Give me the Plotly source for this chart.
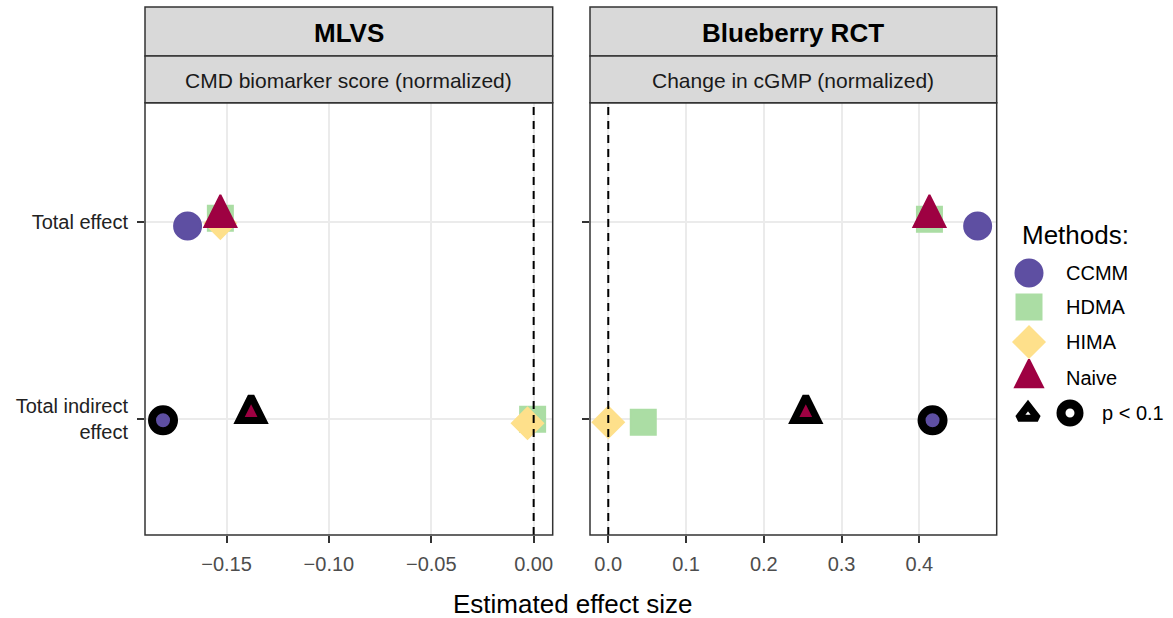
import plotly.graph_objects as go

W, H = 1173, 618

# ---------------- data ----------------
methods = ["CCMM", "HDMA", "HIMA", "Naive"]
colors = ["#5E4FA2", "#ABDDA4", "#FEE08B", "#9E0142"]
symbols = ["circle", "square", "diamond", "triangle"]

effect_labels = ["Total effect", "Total indirect<br>effect"]
effect_pos = [2, 1]          # category positions (top, bottom)

studies = ["MLVS", "Blueberry RCT"]
outcomes = ["CMD biomarker score (normalized)", "Change in cGMP (normalized)"]

# estimated effect sizes: [total effect, total indirect effect]
mlvs_est = {"CCMM": [-0.169, -0.181], "HDMA": [-0.153, -0.0005],
            "HIMA": [-0.153, -0.003], "Naive": [-0.153, -0.138]}
blue_est = {"CCMM": [0.475, 0.417], "HDMA": [0.413, 0.045],
            "HIMA": [None, 0.0], "Naive": [0.413, 0.254]}

# p < 0.1 flags
mlvs_sig = {"CCMM": [False, True], "HDMA": [False, False],
            "HIMA": [False, False], "Naive": [False, True]}
blue_sig = {"CCMM": [False, True], "HDMA": [False, False],
            "HIMA": [False, False], "Naive": [False, True]}

# small vertical jitter (category units)
mlvs_jit = {"CCMM": [-0.02, -0.005], "HDMA": [0.02, 0.0],
            "HIMA": [-0.005, -0.02], "Naive": [0.03, 0.035]}
blue_jit = {"CCMM": [-0.02, -0.005], "HDMA": [0.015, -0.015],
            "HIMA": [0.0, -0.015], "Naive": [0.03, 0.035]}

# ---------------- styling ----------------
FONT = "Liberation Sans, Arial, sans-serif"
base_size = {"circle": 27, "square": 25, "diamond": 24, "triangle": 32}
base_lw = {"circle": 2, "square": 2, "diamond": 2, "triangle": 2}
sig_size = {"circle": 22, "square": 20, "diamond": 20, "triangle": 24}
sig_lw = {"circle": 8, "square": 7, "diamond": 7, "triangle": 7}


def marker_style(sym, sizes):
    """Equilateral-looking up triangle: arrow-down rotated 180deg, centred on its centroid."""
    if sym == "triangle":
        return dict(symbol="arrow-down", angle=180,
                    standoff=[2.0 * s / 3.0 for s in sizes])
    return dict(symbol=sym)


def px_x(x):
    return x / W


def px_y(y):
    return 1 - y / H


# panel extents in pixels
L1, R1 = 145, 552.7
L2, R2 = 590, 996.7
PT, PB = 102.7, 535
S_TOP, S_MID = 7, 56

fig = go.Figure()

panels = [("x", "y", mlvs_est, mlvs_sig, mlvs_jit),
          ("x2", "y2", blue_est, blue_sig, blue_jit)]

for xa, ya, est, sig, jit in panels:
    for m, col, sym in zip(methods, colors, symbols):
        xs, ys, sizes, lws, lcs = [], [], [], [], []
        for i, pos in enumerate(effect_pos):
            v = est[m][i]
            if v is None:
                continue
            xs.append(v)
            ys.append(pos + jit[m][i])
            if sig[m][i]:
                sizes.append(sig_size[sym])
                lws.append(sig_lw[sym])
                lcs.append("black")
            else:
                sizes.append(base_size[sym])
                lws.append(base_lw[sym])
                lcs.append(col)
        fig.add_trace(go.Scatter(
            x=xs, y=ys, mode="markers", xaxis=xa, yaxis=ya, showlegend=False,
            name=m,
            marker=dict(color=col, size=sizes, opacity=1,
                        line=dict(width=lws, color=lcs),
                        **marker_style(sym, sizes)),
        ))

# ---------------- custom legend (own pixel axis) ----------------
leg_rows = [273, 307, 342, 378]
leg_size = {"circle": 27, "square": 25, "diamond": 24, "triangle": 28}
for m, col, sym, yy in zip(methods, colors, symbols, leg_rows):
    fig.add_trace(go.Scatter(
        x=[1029], y=[yy], mode="markers", xaxis="x3", yaxis="y3", showlegend=False,
        marker=dict(color=col, size=leg_size[sym], opacity=1,
                    line=dict(width=base_lw[sym], color=col),
                    **marker_style(sym, [leg_size[sym]])),
        hoverinfo="skip"))
    fig.add_annotation(x=px_x(1064), y=px_y(yy), xref="paper", yref="paper",
                       text=m, showarrow=False, xanchor="left", yanchor="middle",
                       font=dict(family=FONT, size=20, color="black"))
# p < 0.1 key
fig.add_trace(go.Scatter(
    x=[1028], y=[414], mode="markers", xaxis="x3", yaxis="y3", showlegend=False,
    marker=dict(symbol="triangle-up", color="white", size=17, opacity=1,
                line=dict(width=7, color="black")),
    hoverinfo="skip"))
fig.add_trace(go.Scatter(
    x=[1070], y=[413], mode="markers", xaxis="x3", yaxis="y3", showlegend=False,
    marker=dict(symbol="circle", color="white", size=18, opacity=1,
                line=dict(width=9, color="black")),
    hoverinfo="skip"))
fig.add_annotation(x=px_x(1100), y=px_y(413), xref="paper", yref="paper",
                   text="p < 0.1", showarrow=False, xanchor="left", yanchor="middle",
                   font=dict(family=FONT, size=20, color="black"))
fig.add_annotation(x=px_x(1020), y=px_y(235), xref="paper", yref="paper",
                   text="Methods:", showarrow=False, xanchor="left", yanchor="middle",
                   font=dict(family=FONT, size=26, color="black"))

# ---------------- strips ----------------
for (l, r), study, outc in zip([(L1, R1), (L2, R2)], studies, outcomes):
    fig.add_shape(type="rect", xref="paper", yref="paper",
                  x0=px_x(l), x1=px_x(r), y0=px_y(S_MID), y1=px_y(S_TOP),
                  fillcolor="#D9D9D9", line=dict(color="#333333", width=1.5), layer="above")
    fig.add_shape(type="rect", xref="paper", yref="paper",
                  x0=px_x(l), x1=px_x(r), y0=px_y(PT), y1=px_y(S_MID),
                  fillcolor="#D9D9D9", line=dict(color="#333333", width=1.5), layer="above")
    fig.add_annotation(x=px_x((l + r) / 2), y=px_y(33), xref="paper", yref="paper",
                       text="<b>" + study + "</b>", showarrow=False,
                       xanchor="center", yanchor="middle",
                       font=dict(family=FONT, size=26, color="black"))
    fig.add_annotation(x=px_x((l + r) / 2), y=px_y(80), xref="paper", yref="paper",
                       text=outc, showarrow=False, xanchor="center", yanchor="middle",
                       font=dict(family=FONT, size=21, color="#1A1A1A"))

# panel borders and dashed zero lines
for xa, ya in [("x", "y"), ("x2", "y2")]:
    fig.add_shape(type="line", xref=xa, yref=ya + " domain", x0=0, x1=0, y0=0, y1=1,
                  line=dict(color="black", width=2, dash="8px,6px"), layer="above")
    fig.add_shape(type="rect", xref=xa + " domain", yref=ya + " domain",
                  x0=0, x1=1, y0=0, y1=1, line=dict(color="#333333", width=1.5),
                  fillcolor="rgba(0,0,0,0)", layer="above")

# x axis title
fig.add_annotation(x=px_x(572), y=px_y(604), xref="paper", yref="paper",
                   text="Estimated effect size", showarrow=False,
                   xanchor="center", yanchor="middle",
                   font=dict(family=FONT, size=26, color="black"))

common_x = dict(showgrid=True, gridcolor="#EBEBEB", gridwidth=1.5, zeroline=False,
                ticks="outside", ticklen=7, tickwidth=1.5, tickcolor="#333333",
                tickfont=dict(family=FONT, size=20, color="#4D4D4D"),
                ticklabelstandoff=4,
                showline=False, fixedrange=True)
common_y = dict(showgrid=True, gridcolor="#EBEBEB", gridwidth=1.5, zeroline=False,
                ticks="outside", ticklen=7, tickwidth=1.5, tickcolor="#333333",
                tickvals=effect_pos, range=[0.413, 2.606],
                showline=False, fixedrange=True)

fig.update_layout(
    width=W, height=H, margin=dict(l=0, r=0, t=0, b=0),
    paper_bgcolor="white", plot_bgcolor="white",
    font=dict(family=FONT),
    xaxis=dict(domain=[px_x(L1), px_x(R1)], range=[-0.1898, 0.0093],
               tickvals=[-0.15, -0.10, -0.05, 0.0], tickformat=".2f", anchor="y",
               **common_x),
    xaxis2=dict(domain=[px_x(L2), px_x(R2)], range=[-0.0235, 0.4995],
                tickvals=[0.0, 0.1, 0.2, 0.3, 0.4], tickformat=".1f", anchor="y2",
                **common_x),
    yaxis=dict(domain=[px_y(PB), px_y(PT)], anchor="x", ticktext=effect_labels,
               tickfont=dict(family=FONT, size=20, color="#222222"),
               ticklabelstandoff=5, **common_y),
    yaxis2=dict(domain=[px_y(PB), px_y(PT)], anchor="x2", showticklabels=False,
                **common_y),
    xaxis3=dict(domain=[px_x(1000), 1], range=[1000, W], visible=False, fixedrange=True,
                anchor="y3"),
    yaxis3=dict(domain=[0, 1], range=[H, 0], visible=False, fixedrange=True, anchor="x3"),
)

fig.write_html("out.html")
